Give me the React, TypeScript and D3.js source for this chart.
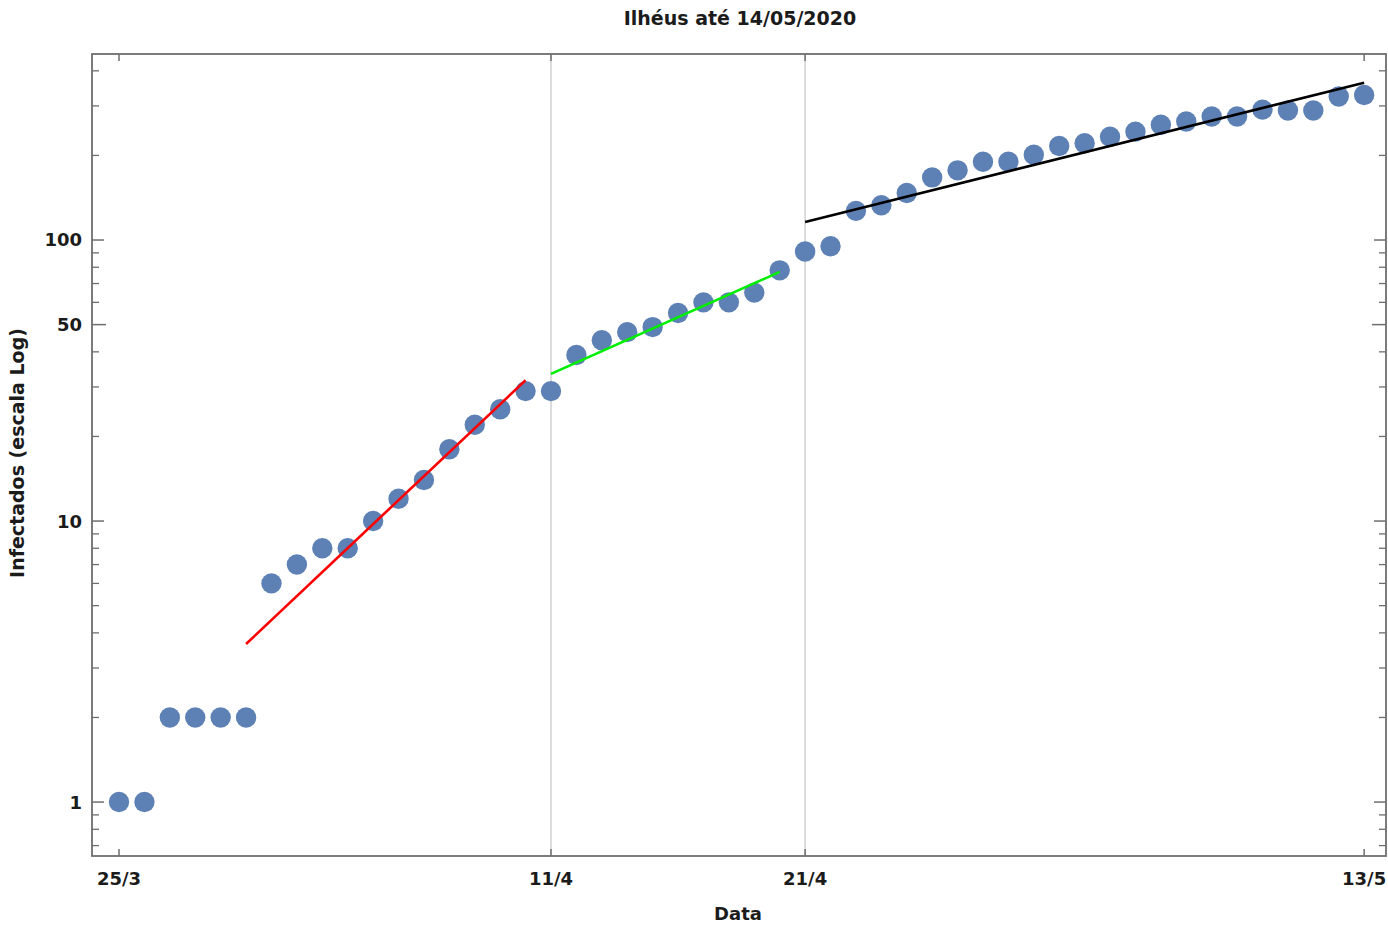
import React from 'react';
import * as d3 from 'd3';

// Infected counts per day, day 0 = 25/3/2020
const infected: number[] = [
  1, 1, 2, 2, 2, 2, 6, 7, 8, 8,
  10, 12, 14, 18, 22, 25, 29, 29, 39, 44,
  47, 49, 55, 60, 60, 65, 78, 91, 95, 127,
  133, 147, 167, 177, 190, 190, 201, 216, 221, 233,
  243, 257, 264, 275, 275, 291, 289, 289, 324, 328,
];

// Fitted lines: [startDay, endDay, startValue, endValue]
const fitRed: number[] = [5, 16, 3.65, 31.7];
const fitGreen: number[] = [17, 26, 33.4, 77];
const fitBlack: number[] = [27, 49, 116, 363];

const xTickDays: number[] = [0, 17, 27, 49];
const xTickLabels: string[] = ['25/3', '11/4', '21/4', '13/5'];
const gridDays: number[] = [17, 27];

const yMajor: number[] = [1, 10, 50, 100];
const yMajorLabels: string[] = ['1', '10', '50', '100'];
const yMinor: number[] = [0.7, 0.8, 0.9, 2, 3, 4, 5, 6, 7, 8, 9, 20, 30, 40, 60, 70, 80, 90, 200, 300, 400];

const W = 1388;
const H = 926;
const L = 92, R = 1386, T = 54, B = 856;

export default function App() {
  const x = d3.scaleLinear().domain([-1.063, 49.86]).range([L, R]);
  const y = d3.scaleLog().domain([0.6428, 459.1]).range([B, T]);
  const font = '"DejaVu Sans", Verdana, sans-serif';
  const textColor = '#1b1b1b';
  const frameColor = '#6e6e6e';

  const fits: [number[], string][] = [
    [fitRed, '#ff0000'],
    [fitGreen, '#00ee00'],
    [fitBlack, '#000000'],
  ];

  return (
    <svg width={W} height={H} style={{ position: 'absolute', left: 0, top: 0, background: '#fff' }}>
      <rect x={0} y={0} width={W} height={H} fill="#fff" />
      {/* grid lines */}
      {gridDays.map((d) => (
        <line key={'g' + d} x1={x(d)} x2={x(d)} y1={T} y2={B} stroke="#c4c4c4" strokeWidth={1.2} />
      ))}
      {/* frame */}
      <rect x={L} y={T} width={R - L} height={B - T} fill="none" stroke={frameColor} strokeWidth={1.8} />
      {/* x ticks */}
      {xTickDays.map((d, i) => (
        <g key={'xt' + d}>
          <line x1={x(d)} x2={x(d)} y1={B} y2={B - 7} stroke={frameColor} strokeWidth={1.5} />
          <line x1={x(d)} x2={x(d)} y1={T} y2={T + 7} stroke={frameColor} strokeWidth={1.5} />
          <text x={x(d)} y={885} textAnchor="middle" fontFamily={font} fontWeight="bold" fontSize={18} fill={textColor}>
            {xTickLabels[i]}
          </text>
        </g>
      ))}
      {/* y major ticks */}
      {yMajor.map((v, i) => {
        const len = v === 50 ? 14 : 12;
        return (
          <g key={'ym' + v}>
            <line x1={L} x2={L + len} y1={y(v)} y2={y(v)} stroke={frameColor} strokeWidth={1.5} />
            <line x1={R} x2={R - len} y1={y(v)} y2={y(v)} stroke={frameColor} strokeWidth={1.5} />
            <text x={82} y={y(v)} dy="0.36em" textAnchor="end" fontFamily={font} fontWeight="bold" fontSize={18} fill={textColor}>
              {yMajorLabels[i]}
            </text>
          </g>
        );
      })}
      {/* y minor ticks */}
      {yMinor.map((v) => (
        <g key={'yn' + v}>
          <line x1={L} x2={L + 7} y1={y(v)} y2={y(v)} stroke={frameColor} strokeWidth={1.3} />
          <line x1={R} x2={R - 7} y1={y(v)} y2={y(v)} stroke={frameColor} strokeWidth={1.3} />
        </g>
      ))}
      {/* points */}
      {infected.map((v, i) => (
        <circle key={'p' + i} cx={x(i)} cy={y(v)} r={10.2} fill="#5E81B5" />
      ))}
      {/* fitted lines */}
      {fits.map(([f, c], i) => (
        <line key={'f' + i} x1={x(f[0])} y1={y(f[2])} x2={x(f[1])} y2={y(f[3])} stroke={c} strokeWidth={2.6} />
      ))}
      {/* title & axis labels */}
      <text x={740} y={25} textAnchor="middle" fontFamily={font} fontWeight="bold" fontSize={19} fill={textColor}>
        Ilhéus até 14/05/2020
      </text>
      <text x={738} y={920} textAnchor="middle" fontFamily={font} fontWeight="bold" fontSize={18} fill={textColor}>
        Data
      </text>
      <text
        transform={`translate(24, 453) rotate(-90)`}
        textAnchor="middle"
        fontFamily={font}
        fontWeight="bold"
        fontSize={19}
        fill={textColor}
      >
        Infectados (escala Log)
      </text>
    </svg>
  );
}
